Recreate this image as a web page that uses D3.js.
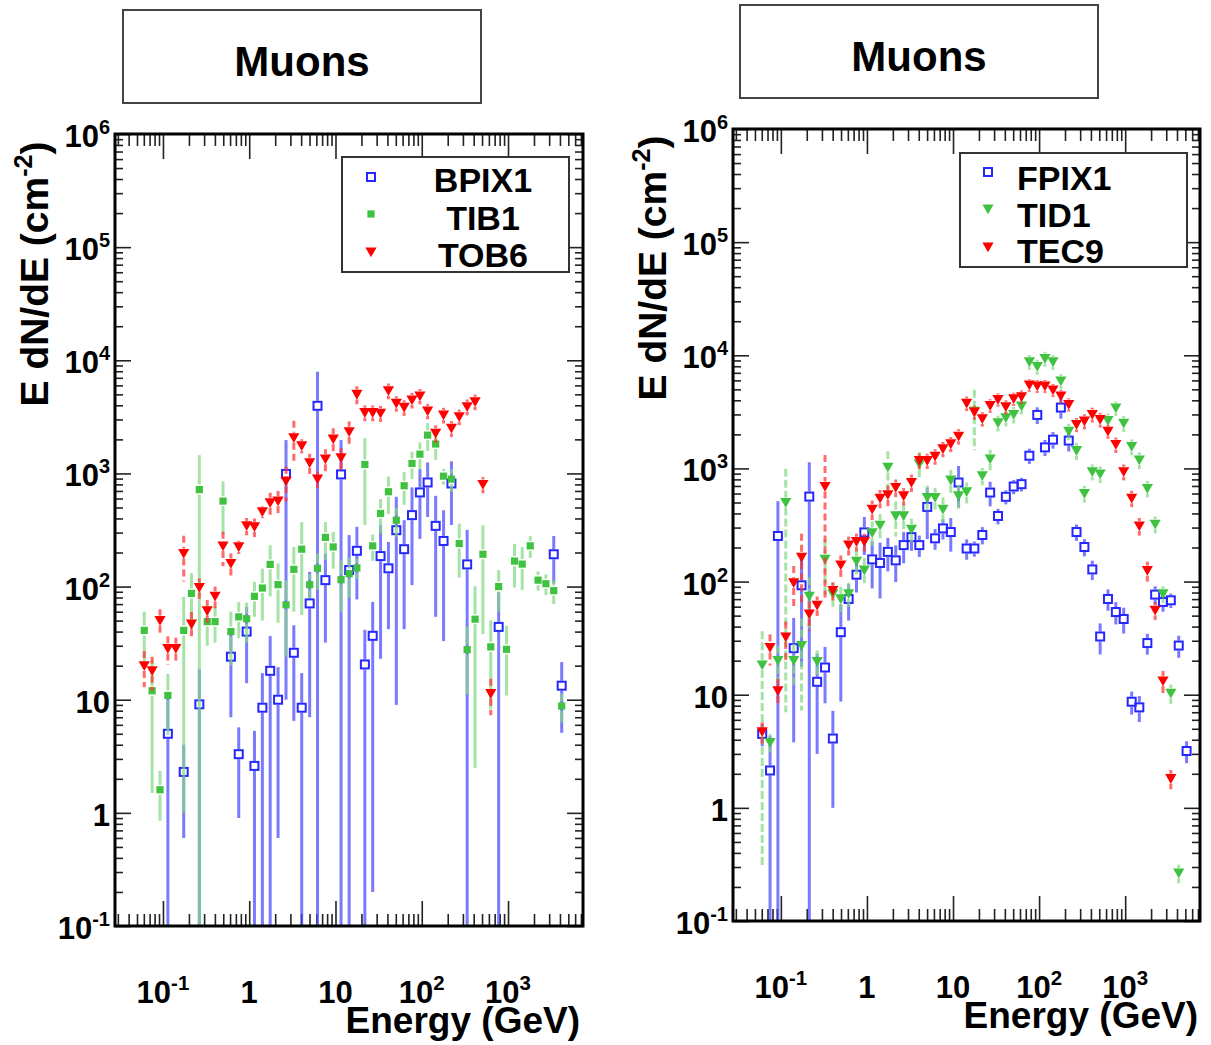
<!DOCTYPE html>
<html>
<head>
<meta charset="utf-8">
<script src="https://cdn.jsdelivr.net/npm/d3@7"></script>
<style>
  body { margin: 0; background: #fff; }
  svg { display: block; font-family: "Liberation Sans", Arial, sans-serif; font-weight: bold; }
</style>
</head>
<body>
<div id="chart"></div>
<script>
// Energy bin centres (GeV), shared by every series
const energy = [0.0607, 0.0749, 0.0924, 0.114, 0.141, 0.174, 0.214, 0.264, 0.326, 0.402,
    0.497, 0.613, 0.756, 0.933, 1.15, 1.42, 1.75, 2.16, 2.67, 3.29,
    4.06, 5.02, 6.19, 7.64, 9.42, 11.6, 14.4, 17.7, 21.9, 27.0,
    33.3, 41.1, 50.7, 62.5, 77.1, 95.2, 117, 145, 179, 221,
    272, 336, 415, 512, 631, 779, 961, 1190, 1460, 1810,
    2230, 2750, 3390, 4190, 5170];

// Left panel
const bpix1 = [null, null, null, 5.0, null, 2.3, null, 9.1, null, null,
    null, 24, 3.3, 40, 2.6, 8.5, 18, 10, 990, 26,
    8.5, 71, 3960, 114, null, 980, 140, 207, 20.5, 36.7,
    186, 145, 315, 214, 428, 679, 832, 344, 253, 815,
    null, 157, null, null, null, 44, null, null, null, null,
    null, null, 193, 13.3, null];
const bpix1Err = [null, null, null, 6.2, null, 1.7, null, 9.5, null, null,
    null, 17, 2.4, 26, 2.7, 8.7, 18.5, 9.4, 980, 19.5,
    8.7, 64, 3960, 82, null, 990, 145, 130, 21, 36.5,
    163, 103, 306, 172, 325, 415, 420, 290, 220, 465,
    null, 160, null, null, null, 45, null, null, null, null,
    null, null, 87, 8.2, null];

const tib1 = [41, 12, 1.6, 10.9, null, 41, 87, 720, 49, 49,
    570, 40, 54, 52, 82, 97, 157, 104, 69, 142,
    214, 104, 145, 272, 224, 115, 130, 146, 1200, 229,
    443, 689, 386, 778, 1225, 1480, 2180, 1820, 946, 890,
    240, 27.7, 51.5, 193, 29.3, 100, 27.9, 168, 158, 229,
    114, 106, 92, 8.8, null];
const tib1Err = [19, 10.5, 0.75, 6, null, 40, 45, 730, 19, 17,
    280, 20, 19, 20, 28, 47, 75, 56, 45, 82,
    158, 25, 51, 100, 80, 55, 50, 30, 850, 60,
    150, 250, 110, 250, 330, 400, 600, 500, 150, 200,
    120, 16.5, 49, 155, 21, 40, 17, 70, 65, 50,
    22, 22, 22, 2.5, null];

const tob6 = [19.9, 18, 50, 28.3, 28.3, 196, 46.5, 98, 61, 82,
    228, 160, 224, 344, 337, 458, 550, 569, 855, 2065,
    1754, 1241, 891, 1337, 2009, 1374, 2333, 4990, 3440, 3440,
    3400, 5380, 4160, 3830, 4450, 4830, 3560, 2260, 3280, 2500,
    3170, 3880, 4300, 798, 11.3, null, null, null, null, null,
    null, null, null, null, null];
const tob6Err = [7, 6, 13, 8, 7, 85, 13, 20, 15, 18,
    77, 36, 30, 60, 63, 56, 124, 130, 290, 850,
    250, 250, 150, 300, 500, 300, 550, 900, 550, 550,
    550, 850, 650, 600, 700, 750, 550, 400, 520, 400,
    500, 620, 680, 130, 4, null, null, null, null, null,
    null, null, null, null, null];

// Right panel
const fpix1 = [4.5, 2.14, 253, null, 25.8, 92.7, 564, 13.0, 17.4, 4.1,
    35.7, 70.2, 115, 272, 157, 146, 183, 154, 210, 247,
    210, 457, 241, 295, 274, 751, 196, 196, 258, 612,
    380, 561, 692, 726, 1295, 2970, 1535, 1796, 3450, 1762,
    274, 202, 128, 32.7, 70.2, 53.8, 46.7, 8.67, 7.73, 28.6,
    76.7, 66.1, 68.3, 27.2, 3.18];
const fpix1Err = [1, 2.2, 260, null, 22, 75, 570, 10, 9, 3.1,
    27, 25, 35, 100, 70, 75, 60, 55, 65, 60,
    45, 220, 50, 60, 90, 300, 40, 30, 45, 150,
    60, 80, 100, 100, 200, 500, 250, 300, 700, 350,
    45, 35, 25, 10, 15, 12, 12, 2, 2, 6,
    14, 12, 10, 6, 0.7];

const tid1 = [18.3, 3.78, 20, 499, 20, 27.2, 74.1, 19.6, 157, 78,
    70.2, 77.8, 151, 126, 270, 314, 1021, 380, 380, 290,
    1092, 553, 553, 435, 787, 571, 621, 3200, 861, 1211,
    2524, 2800, 2995, 3548, 8730, 7935, 9341, 8730, 5916, 2128,
    1434, 600, 934, 891, 2649, 3412, 2507, 1557, 1186, 664,
    321, 77.8, 10.3, 0.265, null];
const tid1Err = [18, 0.7, 7, 492, 8, 20, 35, 5, 80, 20,
    20, 20, 40, 35, 70, 80, 400, 130, 110, 70,
    300, 150, 120, 120, 180, 130, 130, 1750, 150, 250,
    400, 450, 500, 550, 1300, 1200, 1400, 1300, 900, 350,
    250, 100, 150, 150, 400, 500, 400, 250, 200, 110,
    55, 13, 2, 0.05, null];

const tec9 = [4.7, 26.1, 10.8, 32.3, 97.3, 164, 51.6, 61.7, 692, 83.2,
    140, 210, 225, 225, 435, 545, 584, 678, 571, 751,
    1170, 1170, 1278, 1486, 1645, 1923, 3760, 3141, 2741, 3597,
    4066, 3501, 4121, 4295, 5453, 5346, 5346, 4922, 4355, 3673,
    2442, 2614, 2994, 2702, 2130, 1622, 934, 545, 310, 125,
    55.7, 13.2, 1.81, null, null];
const tec9Err = [1, 8, 3, 12, 40, 100, 15, 12, 620, 15,
    30, 40, 40, 40, 85, 100, 120, 120, 100, 130,
    180, 180, 200, 230, 250, 300, 550, 450, 400, 500,
    550, 500, 550, 600, 700, 700, 700, 650, 600, 500,
    350, 400, 450, 400, 300, 250, 150, 90, 55, 25,
    10, 3, 0.35, null, null];

// Axis ticks and labels
const xDomain = [0.0278, 7400];
const yDomain = [0.1, 1e6];
const xTickValues = [0.1, 1, 10, 100, 1000];
const xTickBase = ['10', '1', '10', '10', '10'];
const xTickExp = ['-1', '', '', '2', '3'];
const yTickValues = [0.1, 1, 10, 100, 1e3, 1e4, 1e5, 1e6];
const yTickBase = ['10', '1', '10', '10', '10', '10', '10', '10'];
const yTickExp = ['-1', '', '', '2', '3', '4', '5', '6'];

const W = 1211, H = 1045;
const svg = d3.select('#chart').append('svg').attr('width', W).attr('height', H);

const panels = [
    {
        left: 115, top: 134, width: 468, height: 792, clip: 'clipL',
        box: { x: 123, y: 10, w: 358, h: 93, base: 76 },
        legend: { x: 342, y: 157, w: 227, h: 115, mx: 371, tx: 483, anchor: 'middle',
                  my: [177, 214, 252], ty: [192, 230, 267] },
        ylab: { x: 48, y: 274 }, xlab: { x: 580, y: 1033 },
        series: [
            { name: 'BPIX1', values: bpix1, errors: bpix1Err, marker: 'open', color: '#2626ff', bar: '#4646ff', dash: null },
            { name: 'TIB1', values: tib1, errors: tib1Err, marker: 'filled', color: '#3fc23f', bar: '#84d884', dash: null },
            { name: 'TOB6', values: tob6, errors: tob6Err, marker: 'tri', color: '#ff0000', bar: '#ff3030', dash: '7,4' }
        ]
    },
    {
        left: 733, top: 129, width: 467, height: 792, clip: 'clipR',
        box: { x: 740, y: 5, w: 358, h: 93, base: 71 },
        legend: { x: 960, y: 153, w: 227, h: 114, mx: 988, tx: 1017, anchor: 'start',
                  my: [172, 209, 247], ty: [190, 227, 263] },
        ylab: { x: 666, y: 268 }, xlab: { x: 1198, y: 1028 },
        series: [
            { name: 'FPIX1', values: fpix1, errors: fpix1Err, marker: 'open', color: '#2626ff', bar: '#4646ff', dash: null },
            { name: 'TID1', values: tid1, errors: tid1Err, marker: 'tri', color: '#3fc23f', bar: '#84d884', dash: '8,3' },
            { name: 'TEC9', values: tec9, errors: tec9Err, marker: 'tri', color: '#ff0000', bar: '#ff3030', dash: '7,4' }
        ]
    }
];

function minorTicks(domain) {
    const out = [];
    const p0 = Math.floor(Math.log10(domain[0])), p1 = Math.ceil(Math.log10(domain[1]));
    for (let p = p0; p <= p1; p++) {
        for (let k = 2; k <= 9; k++) {
            const v = k * Math.pow(10, p);
            if (v > domain[0] && v < domain[1]) out.push(v);
        }
    }
    return out;
}

function drawMarker(sel, type, color) {
    if (type === 'open') {
        sel.append('rect').attr('x', -4).attr('y', -4).attr('width', 8).attr('height', 8)
            .attr('fill', 'none').attr('stroke', color).attr('stroke-width', 2);
    } else if (type === 'filled') {
        sel.append('rect').attr('x', -3.6).attr('y', -3.6).attr('width', 7.2).attr('height', 7.2)
            .attr('fill', color);
    } else {
        sel.append('path').attr('d', 'M-5.6,-4.6 L5.6,-4.6 L0,5.2 Z').attr('fill', color);
    }
}

function addSup(textSel, base, exp, size) {
    textSel.append('tspan').text(base);
    if (exp) {
        textSel.append('tspan').attr('dy', -size * 0.42).attr('font-size', size * 0.66).text(exp);
    }
}

panels.forEach(p => {
    const x = d3.scaleLog().domain(xDomain).range([p.left, p.left + p.width]);
    const y = d3.scaleLog().domain(yDomain).range([p.top + p.height, p.top]);
    const bottom = p.top + p.height;

    // Title box
    svg.append('rect').attr('x', p.box.x).attr('y', p.box.y).attr('width', p.box.w).attr('height', p.box.h)
        .attr('fill', '#fff').attr('stroke', '#444').attr('stroke-width', 2);
    svg.append('text').attr('x', p.box.x + p.box.w / 2).attr('y', p.box.base)
        .attr('text-anchor', 'middle').attr('font-size', 42).text('Muons');

    svg.append('clipPath').attr('id', p.clip).append('rect')
        .attr('x', p.left).attr('y', p.top).attr('width', p.width).attr('height', p.height);

    // Ticks
    const tickG = svg.append('g').attr('class', 'ticks');
    const axes = [
        [d3.axisBottom(x).tickValues(xTickValues).tickSize(-25), `translate(0,${bottom})`],
        [d3.axisBottom(x).tickValues(minorTicks(xDomain)).tickSize(-12), `translate(0,${bottom})`],
        [d3.axisTop(x).tickValues(xTickValues).tickSize(-25), `translate(0,${p.top})`],
        [d3.axisTop(x).tickValues(minorTicks(xDomain)).tickSize(-12), `translate(0,${p.top})`],
        [d3.axisLeft(y).tickValues(yTickValues).tickSize(-16), `translate(${p.left},0)`],
        [d3.axisLeft(y).tickValues(minorTicks(yDomain)).tickSize(-8), `translate(${p.left},0)`],
        [d3.axisRight(y).tickValues(yTickValues).tickSize(-16), `translate(${p.left + p.width},0)`],
        [d3.axisRight(y).tickValues(minorTicks(yDomain)).tickSize(-8), `translate(${p.left + p.width},0)`]
    ];
    axes.forEach(([ax, tr]) => {
        const g = tickG.append('g').attr('transform', tr).call(ax.tickFormat(''));
        g.select('.domain').remove();
        g.selectAll('line').attr('stroke', '#222').attr('stroke-width', 1.6);
    });

    // Tick labels
    xTickValues.forEach((v, i) => {
        const t = svg.append('text').attr('x', x(v)).attr('y', bottom + 77)
            .attr('text-anchor', 'middle').attr('font-size', 31);
        addSup(t, xTickBase[i], xTickExp[i], 31);
    });
    yTickValues.forEach((v, i) => {
        const t = svg.append('text').attr('x', p.left - 5).attr('y', y(v) + 13)
            .attr('text-anchor', 'end').attr('font-size', 31);
        if (yTickExp[i]) {
            t.append('tspan').text(yTickBase[i]);
            t.append('tspan').attr('dy', -13).attr('font-size', 20).text(yTickExp[i]);
        } else {
            t.text(yTickBase[i]);
        }
    });

    // Axis titles
    const yl = svg.append('text').attr('transform', `translate(${p.ylab.x},${p.ylab.y}) rotate(-90)`)
        .attr('text-anchor', 'middle').attr('font-size', 39);
    yl.append('tspan').text('E dN/dE (cm');
    yl.append('tspan').attr('dy', -16).attr('font-size', 25).text('-2');
    yl.append('tspan').attr('dy', 16).text(')');
    svg.append('text').attr('x', p.xlab.x).attr('y', p.xlab.y).attr('text-anchor', 'end')
        .attr('font-size', 37).text('Energy (GeV)');

    // Data
    const plot = svg.append('g').attr('clip-path', `url(#${p.clip})`);
    p.series.forEach(s => {
        const pts = energy.map((e, i) => ({ e, v: s.values[i], err: s.errors[i] }))
            .filter(d => d.v != null);
        const gap = 5;
        const upper = pts.filter(d => y(d.v + d.err) < y(d.v) - gap);
        const lower = pts.filter(d => {
            const lo = d.v - d.err;
            const yb = lo > yDomain[0] ? y(lo) : bottom + 5;
            return yb > y(d.v) + gap;
        });
        const barG = plot.append('g').attr('stroke', s.bar).attr('stroke-width', 3)
            .attr('stroke-opacity', 0.72).attr('stroke-dasharray', s.dash);
        barG.selectAll('line.up').data(upper).join('line').attr('class', 'up')
            .attr('x1', d => x(d.e)).attr('x2', d => x(d.e))
            .attr('y1', d => y(d.v + d.err)).attr('y2', d => y(d.v) - gap);
        barG.selectAll('line.lo').data(lower).join('line').attr('class', 'lo')
            .attr('x1', d => x(d.e)).attr('x2', d => x(d.e))
            .attr('y1', d => y(d.v) + gap)
            .attr('y2', d => (d.v - d.err > yDomain[0] ? y(d.v - d.err) : bottom + 5));

        plot.append('g').selectAll('g').data(pts).join('g')
            .attr('transform', d => `translate(${x(d.e)},${y(d.v)})`)
            .each(function () { drawMarker(d3.select(this), s.marker, s.color); });
    });

    // Frame
    svg.append('rect').attr('x', p.left).attr('y', p.top).attr('width', p.width).attr('height', p.height)
        .attr('fill', 'none').attr('stroke', '#000').attr('stroke-width', 3);

    // Legend
    const L = p.legend;
    svg.append('rect').attr('x', L.x).attr('y', L.y).attr('width', L.w).attr('height', L.h)
        .attr('fill', '#fff').attr('stroke', '#333').attr('stroke-width', 2);
    p.series.forEach((s, i) => {
        const m = svg.append('g').attr('transform', `translate(${L.mx},${L.my[i]})`);
        drawMarker(m, s.marker, s.color);
        svg.append('text').attr('x', L.tx).attr('y', L.ty[i]).attr('text-anchor', L.anchor)
            .attr('font-size', 34).text(s.name);
    });
});
</script>
</body>
</html>
